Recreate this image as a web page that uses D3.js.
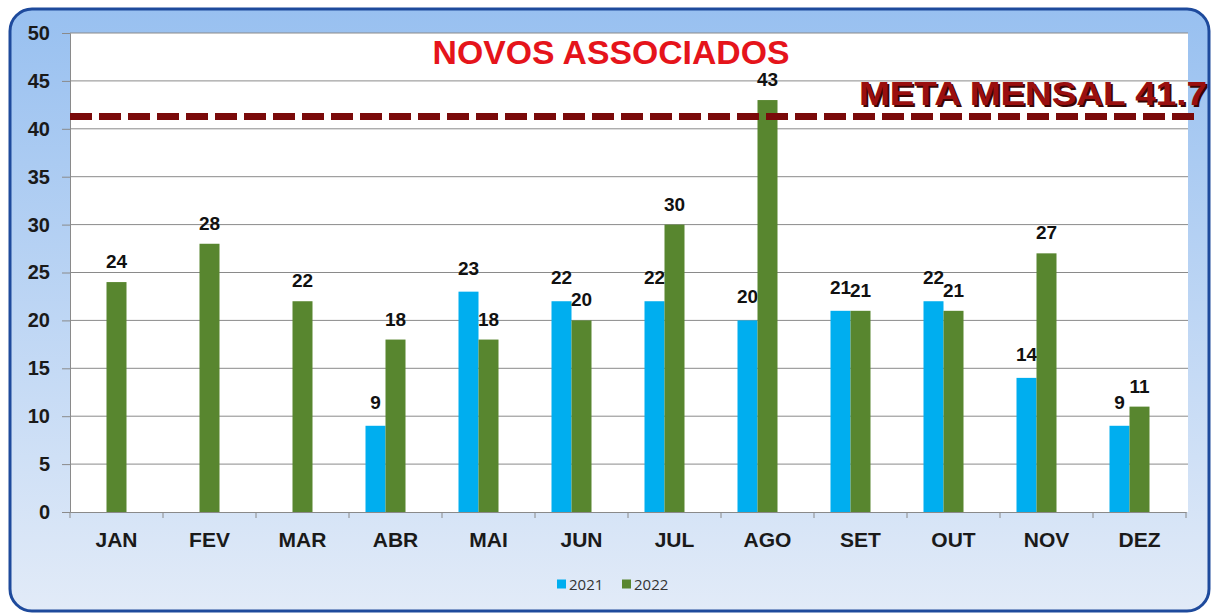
<!DOCTYPE html>
<html>
<head>
<meta charset="utf-8">
<script src="https://cdn.jsdelivr.net/npm/d3@7"></script>
<style>
  body { margin: 0; background: #fff; }
  svg { display: block; font-family: "Liberation Sans", Arial, sans-serif; }
</style>
</head>
<body>
<svg width="1214" height="614"></svg>
<script>
var months = ["JAN", "FEV", "MAR", "ABR", "MAI", "JUN", "JUL", "AGO", "SET", "OUT", "NOV", "DEZ"];
var years = ["2021", "2022"];
var values2021 = [null, null, null, 9, 23, 22, 22, 20, 21, 22, 14, 9];
var values2022 = [24, 28, 22, 18, 18, 20, 30, 43, 21, 21, 27, 11];
var yTicks = [0, 5, 10, 15, 20, 25, 30, 35, 40, 45, 50];
var metaValue = 41.7;
var colors = {"2021": "#00AEEF", "2022": "#58862F"};
var labelGap = {"2021": 17, "2022": 14};

var svg = d3.select("svg"),
    margin = {top: 33, right: 28, bottom: 102, left: 70},
    width = 1214 - margin.left - margin.right,
    height = 614 - margin.top - margin.bottom;

// background panel
var defs = svg.append("defs");
var grad = defs.append("linearGradient").attr("id", "bg").attr("x1", 0).attr("y1", 0).attr("x2", 0).attr("y2", 1);
grad.append("stop").attr("offset", "0%").attr("stop-color", "#98C0F0");
grad.append("stop").attr("offset", "100%").attr("stop-color", "#E2EBF8");

svg.append("rect")
    .attr("x", 10).attr("y", 9)
    .attr("width", 1199).attr("height", 602)
    .attr("rx", 22).attr("ry", 22)
    .attr("fill", "url(#bg)")
    .attr("stroke", "#1E4A9C")
    .attr("stroke-width", 3);

var g = svg.append("g").attr("transform", "translate(" + margin.left + "," + margin.top + ")");

var x = d3.scaleBand().domain(months).range([0, width]);
var x1 = d3.scaleBand().domain(years).range([-30, 10]);
var y = d3.scaleLinear().domain([0, 50]).range([height, 0]);

g.append("rect")
    .attr("width", width + 2)
    .attr("height", height)
    .attr("fill", "#fff");

// grid
g.append("g")
    .selectAll("line")
    .data(yTicks.slice(1))
    .enter().append("line")
    .attr("x1", 0).attr("x2", width + 2)
    .attr("y1", function(d) { return y(d); })
    .attr("y2", function(d) { return y(d); })
    .attr("stroke", "#8a8a8a")
    .attr("stroke-width", 1);

// y axis
var yAxis = g.append("g")
    .call(d3.axisLeft(y).tickValues(yTicks).tickSize(8).tickPadding(12));
yAxis.select(".domain").attr("stroke", "#8a8a8a");
yAxis.selectAll(".tick line").attr("stroke", "#8a8a8a");
yAxis.selectAll("text")
    .attr("fill", "#1a1a1a")
    .style("font-size", "20px")
    .style("font-weight", "bold")
    .style("font-family", "Liberation Sans, Arial, sans-serif");

// x axis
var xAxis = g.append("g")
    .attr("transform", "translate(0," + height + ")")
    .call(d3.axisBottom(x).tickSize(0).tickPadding(20));
xAxis.select(".domain").attr("stroke", "#8a8a8a");
xAxis.selectAll("text")
    .attr("fill", "#1a1a1a")
    .style("font-size", "21px")
    .style("font-weight", "bold")
    .style("font-family", "Liberation Sans, Arial, sans-serif");
xAxis.selectAll(".sep")
    .data(d3.range(months.length + 1))
    .enter().append("line")
    .attr("x1", function(i) { return i * x.step(); })
    .attr("x2", function(i) { return i * x.step(); })
    .attr("y1", 0).attr("y2", 6)
    .attr("stroke", "#8a8a8a");

// bars
var series = years.map(function(yr, i) {
  var vals = i === 0 ? values2021 : values2022;
  return {year: yr, values: months.map(function(m, j) { return {month: m, value: vals[j]}; })
    .filter(function(d) { return d.value !== null; })};
});

var sg = g.selectAll(".series")
  .data(series)
  .enter().append("g")
    .attr("class", "series");

sg.selectAll("rect")
  .data(function(s) { return s.values.map(function(d) { return {year: s.year, month: d.month, value: d.value}; }); })
  .enter().append("rect")
    .attr("x", function(d) { return x(d.month) + x.bandwidth() / 2 + x1(d.year); })
    .attr("width", x1.bandwidth())
    .attr("y", function(d) { return y(d.value); })
    .attr("height", function(d) { return height - y(d.value); })
    .attr("fill", function(d) { return colors[d.year]; });

sg.selectAll("text")
  .data(function(s) { return s.values.map(function(d) { return {year: s.year, month: d.month, value: d.value}; }); })
  .enter().append("text")
    .attr("x", function(d) { return x(d.month) + x.bandwidth() / 2 + x1(d.year) + x1.bandwidth() / 2; })
    .attr("y", function(d) { return y(d.value) - labelGap[d.year]; })
    .attr("text-anchor", "middle")
    .style("font-size", "19px")
    .style("font-weight", "bold")
    .attr("fill", "#111")
    .text(function(d) { return d.value; });

// meta line
g.append("line")
    .attr("x1", 0).attr("x2", width + 14)
    .attr("y1", y(metaValue) + 4).attr("y2", y(metaValue) + 4)
    .attr("stroke", "#7A0A0A")
    .attr("stroke-width", 7)
    .attr("stroke-dasharray", "22,7");

g.append("text")
    .attr("x", 791).attr("y", y(metaValue) - 6)
    .attr("textLength", 348).attr("lengthAdjust", "spacingAndGlyphs")
    .style("font-size", "34px").style("font-weight", "bold")
    .attr("fill", "#3a0505")
    .text("META MENSAL " + metaValue);
g.append("text")
    .attr("x", 789).attr("y", y(metaValue) - 8)
    .attr("textLength", 348).attr("lengthAdjust", "spacingAndGlyphs")
    .style("font-size", "34px").style("font-weight", "bold")
    .attr("fill", "#9A0F0F")
    .text("META MENSAL " + metaValue);

// title
svg.append("text")
    .attr("x", 611).attr("y", 64)
    .attr("text-anchor", "middle")
    .attr("textLength", 357).attr("lengthAdjust", "spacingAndGlyphs")
    .style("font-size", "33px").style("font-weight", "bold")
    .attr("fill", "#E5141B")
    .text("NOVOS ASSOCIADOS");

// legend
var legend = svg.append("g").attr("transform", "translate(557,584)");
var li = legend.selectAll("g")
  .data(years)
  .enter().append("g")
    .attr("transform", function(d, i) { return "translate(" + (i * 65) + ",0)"; });
li.append("rect")
    .attr("x", 0).attr("y", -4.5).attr("width", 9).attr("height", 9)
    .attr("fill", function(d) { return colors[d]; });
li.append("text")
    .attr("x", 12).attr("y", 5.5)
    .style("font-size", "15px")
    .style("font-family", "Open Sans, sans-serif")
    .attr("fill", "#333")
    .text(function(d) { return d; });
</script>
</body>
</html>
